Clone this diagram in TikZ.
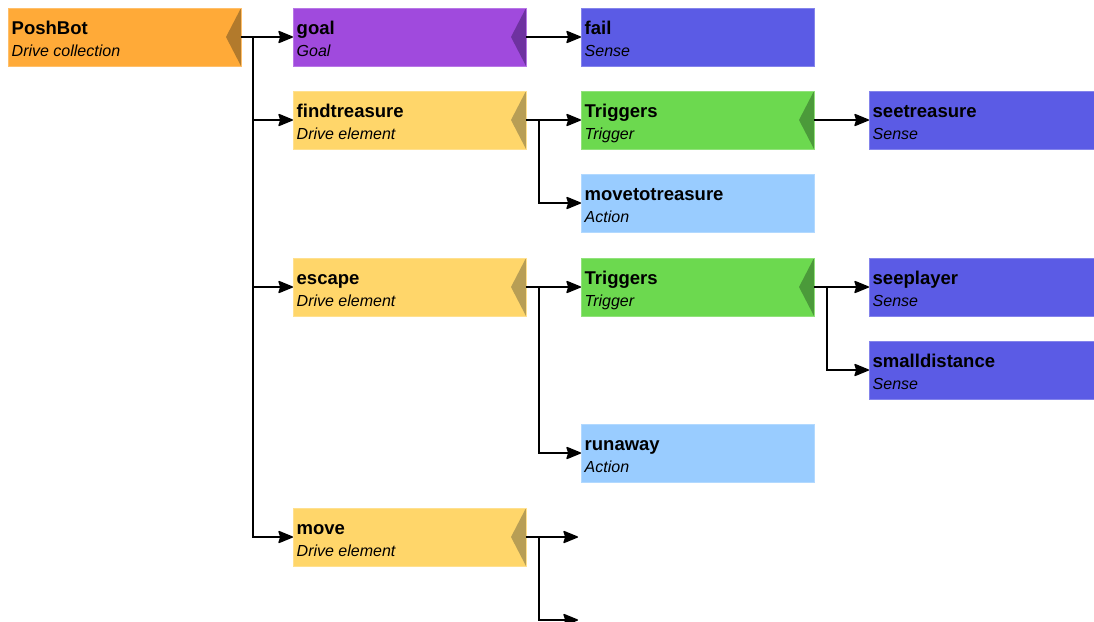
\documentclass[tikz,border=0pt]{standalone}
\usepackage{fontspec}
\setmainfont{Liberation Sans}
\usetikzlibrary{arrows.meta}

% box fills and the darker notch on the right edge
\definecolor{cColl}{RGB}{255,170,56}
\definecolor{nColl}{RGB}{178,122,44}
\definecolor{cGoal}{RGB}{160,74,221}
\definecolor{nGoal}{RGB}{110,50,160}
\definecolor{cSense}{RGB}{91,91,229}
\definecolor{cElem}{RGB}{255,214,106}
\definecolor{nElem}{RGB}{184,158,85}
\definecolor{cTrig}{RGB}{108,217,79}
\definecolor{nTrig}{RGB}{75,154,58}
\definecolor{cAction}{RGB}{153,204,255}

\tikzset{
  x=1pt, y=-1pt,
  box/.style={rectangle, anchor=north west, inner sep=0pt, outer sep=0pt,
    minimum width=233pt, minimum height=58pt, line width=0.8pt},
  boxcol/.style={fill=#1, draw=#1!75!white},
  notch/.style={path picture={\fill[#1]
      (path picture bounding box.north east) --
      ([xshift=-15pt]path picture bounding box.east) --
      (path picture bounding box.south east) -- cycle;}},
  collection/.style={box, boxcol=cColl, notch=nColl},
  goalbox/.style={box, boxcol=cGoal, notch=nGoal},
  sense/.style={box, boxcol=cSense},
  element/.style={box, boxcol=cElem, notch=nElem},
  trigger/.style={box, boxcol=cTrig, notch=nTrig},
  action/.style={box, boxcol=cAction},
  title/.style={anchor=base west, inner sep=0pt, font=\bfseries\fontsize{18.5}{20}\selectfont},
  sub/.style={anchor=base west, inner sep=0pt, font=\itshape\fontsize{16}{18}\selectfont},
  link/.style={line width=1.3pt, draw=black},
  conn/.style={link, -{Stealth[length=16pt, width=13pt, inset=2pt, round=false]}},
}

% a box with its name and its kind
\newcommand\planbox[6]{%
  \node[#4] (#1) at (#2,#3) {};
  \node[title] (#1-t) at ([xshift=3.5pt,yshift=-26pt]#1.north west) {#5};
  \node[sub] (#1-s) at ([xshift=3.5pt,yshift=-48pt]#1.north west) {#6};
}

\begin{document}
\begin{tikzpicture}
\clip (0,0) rectangle (1094,621);
\fill[white] (0,0) rectangle (1094,621);

\planbox{poshbot}{8}{8}{collection}{PoshBot}{Drive collection}
\planbox{goal}{293}{8}{goalbox}{goal}{Goal}
\planbox{fail}{581}{8}{sense}{fail}{Sense}
\planbox{findtreasure}{293}{91}{element}{findtreasure}{Drive element}
\planbox{trig1}{581}{91}{trigger}{Triggers}{Trigger}
\planbox{seetreasure}{869}{91}{sense}{seetreasure}{Sense}
\planbox{movetotreasure}{581}{174}{action}{movetotreasure}{Action}
\planbox{escape}{293}{258}{element}{escape}{Drive element}
\planbox{trig2}{581}{258}{trigger}{Triggers}{Trigger}
\planbox{seeplayer}{869}{258}{sense}{seeplayer}{Sense}
\planbox{smalldistance}{869}{341}{sense}{smalldistance}{Sense}
\planbox{runaway}{581}{424}{action}{runaway}{Action}
\planbox{move}{293}{508}{element}{move}{Drive element}

% branch points
\coordinate (pb-j) at ([xshift=12pt]poshbot.east);
\coordinate (ft-j) at ([xshift=13pt]findtreasure.east);
\coordinate (es-j) at ([xshift=13pt]escape.east);
\coordinate (t2-j) at ([xshift=13pt]trig2.east);
\coordinate (mv-j) at ([xshift=13pt]move.east);
\coordinate (mv-a) at ([xshift=52pt]move.east);
\coordinate (mv-b) at ([yshift=-83pt]mv-a);

% PoshBot and its drive elements
\draw[conn] (poshbot.east) -- (goal.west);
\draw[link] (pb-j) -- (pb-j |- move.west);
\draw[conn] (pb-j) |- (findtreasure.west);
\draw[conn] (pb-j) |- (escape.west);
\draw[conn] (pb-j) |- (move.west);

\draw[conn] (goal.east) -- (fail.west);

% findtreasure
\draw[conn] (findtreasure.east) -- (trig1.west);
\draw[conn] (ft-j) |- (movetotreasure.west);
\draw[conn] (trig1.east) -- (seetreasure.west);

% escape
\draw[conn] (escape.east) -- (trig2.west);
\draw[conn] (es-j) |- (runaway.west);
\draw[conn] (trig2.east) -- (seeplayer.west);
\draw[conn] (t2-j) |- (smalldistance.west);

% move
\draw[conn] (move.east) -- (mv-a);
\draw[conn] (mv-j) |- (mv-b);
\end{tikzpicture}
\end{document}
